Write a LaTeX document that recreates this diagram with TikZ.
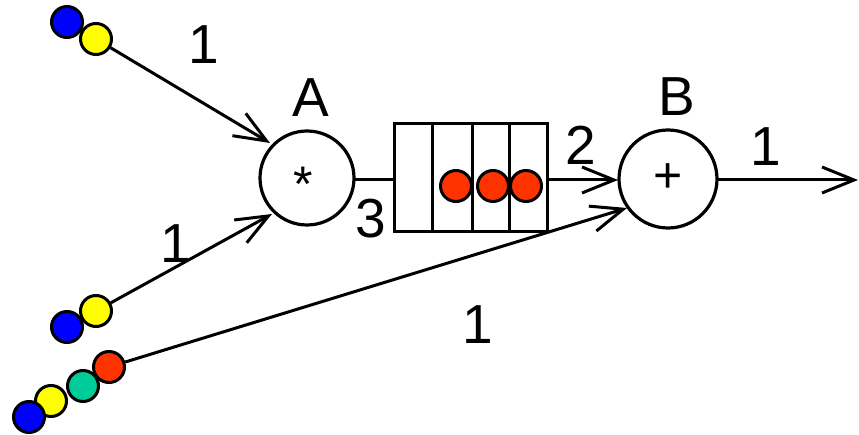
\documentclass[tikz,border=0pt]{standalone}
\usepackage{fontspec}
\setmainfont{Liberation Sans}
\usetikzlibrary{arrows.meta}
\definecolor{tokblue}{RGB}{0,0,255}
\definecolor{tokyellow}{RGB}{255,255,0}
\definecolor{tokgreen}{RGB}{0,204,153}
\definecolor{tokred}{RGB}{255,51,0}
\tikzset{
  token/.style={circle,draw=black,line width=3pt,minimum size=31pt,inner sep=0pt,fill=#1},
  place/.style={circle,draw=black,line width=3.2pt,minimum size=94pt,inner sep=0pt},
  arc/.style={line width=3pt,-{Straight Barb[length=32pt,width=26pt,line width=3pt]}},
  plain/.style={line width=3pt},
  lbl/.style={font=\fontsize{55}{55}\selectfont,inner sep=0pt},
  sym/.style={font=\fontsize{50}{50}\selectfont,inner sep=0pt}
}
\begin{document}
\begin{tikzpicture}[x=1pt,y=-1pt]
\useasboundingbox (0,0) rectangle (859,435);
% places
\node[place] (A) at (307,178) {};
\node[sym] at (303,184) {*};
\node[place,minimum size=98pt] (B) at (668,179) {};
\node[sym] at (668,178) {+};
% queue
\node[draw=black,line width=3pt,minimum width=153pt,minimum height=108pt,inner sep=0pt] (Q) at (470.5,178) {};
\coordinate (d1) at (432,124); \coordinate (d1b) at (432,232);
\coordinate (d2) at (472,124); \coordinate (d2b) at (472,232);
\coordinate (d3) at (509,124); \coordinate (d3b) at (509,232);
\draw[plain] (d1) -- (d1b);
\draw[plain] (d2) -- (d2b);
\draw[plain] (d3) -- (d3b);
\node[token=tokred] (q1) at (456,186) {};
\node[token=tokred] (q2) at (493,186) {};
\node[token=tokred] (q3) at (526,186) {};
% tokens
\node[token=tokblue] (t1) at (67,22) {};
\node[token=tokyellow] (t2) at (96,39) {};
\node[token=tokblue] (t3) at (67,327) {};
\node[token=tokyellow] (t4) at (96,311) {};
\node[token=tokyellow] (t7) at (51,401) {};
\node[token=tokblue] (t8) at (29,417) {};
\node[token=tokgreen] (t6) at (83,386) {};
\node[token=tokred] (t5) at (109,367) {};
% connector ends
\coordinate (out) at (858,180);
\coordinate (Ain1) at (270,143);
\coordinate (Ain2) at (272,214);
\coordinate (Bin2) at (627,208);
\coordinate (Bin1) at (618,180);
\coordinate (Aout) at (355,180);
\coordinate (Qin) at (394,180);
\coordinate (Qout) at (547,180);
\coordinate (Bout) at (718,180);
% arcs
\draw[arc] (t2) -- (Ain1);
\draw[arc] (t4) -- (Ain2);
\draw[arc] (t5) -- (Bin2);
\draw[plain] (Aout) -- (Qin);
\draw[arc] (Qout) -- (Bin1);
\draw[arc] (Bout) -- (out);
% labels
\node[lbl] (lA) at (311,98) {A};
\node[lbl] (lB) at (677,97) {B};
\node[lbl] (l1) at (204,45) {1};
\node[lbl] (l2) at (176,244) {1};
\node[lbl] (l3) at (478,325) {1};
\node[lbl] (l4) at (766,147) {1};
\node[lbl] (l5) at (581,145) {2};
\node[lbl] (l6) at (371,219) {3};
\end{tikzpicture}
\end{document}
